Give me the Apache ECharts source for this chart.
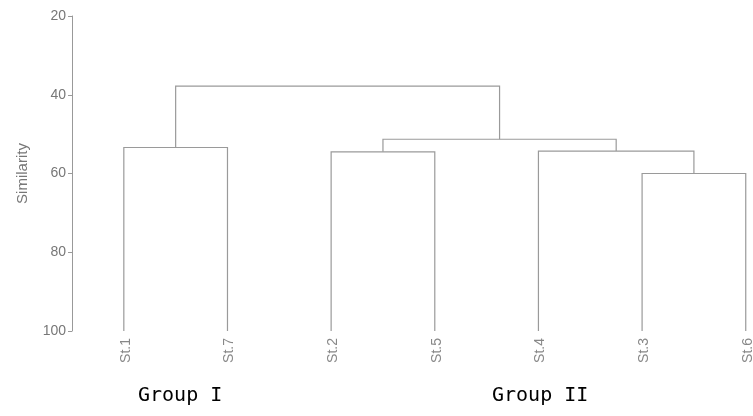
<!DOCTYPE html>
<html>
<head>
<meta charset="utf-8">
<script src="https://cdn.jsdelivr.net/npm/echarts@6/dist/echarts.min.js"></script>
<style>html,body{margin:0;padding:0;background:#fff}#c{width:753px;height:416px}</style>
</head>
<body>
<div id="c"></div>
<script>
// Leaves in dendrogram order
var leaves = ['St.1', 'St.7', 'St.2', 'St.5', 'St.4', 'St.3', 'St.6'];
// Linkage: node ids 0..6 are leaves, 7.. are clusters in order of this list
var mergeA = [0, 2, 5, 4, 8, 7];
var mergeB = [1, 3, 6, 9, 10, 11];
var mergeHeight = [53.4, 54.5, 60.0, 54.3, 51.3, 37.8];
var yTicks = [20, 40, 60, 80, 100];
var groupLabels = ['Group I', 'Group II'];

var nodeX = leaves.map(function (_, i) { return i; });
var nodeY = leaves.map(function () { return 100; });
var links = [];
for (var k = 0; k < mergeA.length; k++) {
  var a = mergeA[k], b = mergeB[k], h = mergeHeight[k];
  links.push([nodeX[a], nodeY[a], nodeX[b], nodeY[b], h]);
  nodeX.push((nodeX[a] + nodeX[b]) / 2);
  nodeY.push(h);
}
var leafData = leaves.map(function (name, i) { return [i, 100, name]; });

var chart = echarts.init(document.getElementById('c'));
chart.setOption({
  animation: false,
  grid: { left: 72, right: 0, top: 16, bottom: 85 },
  xAxis: { type: 'value', min: -0.5, max: 6.07, show: false },
  yAxis: {
    type: 'value', inverse: true, min: yTicks[0], max: yTicks[yTicks.length - 1], interval: 20,
    name: 'Similarity', nameLocation: 'middle', nameGap: 42,
    nameTextStyle: { color: '#777', fontSize: 15, fontFamily: 'Liberation Sans' },
    axisLine: { show: true, onZero: false, lineStyle: { color: '#999' } },
    axisTick: { show: true, length: 4, lineStyle: { color: '#999' } },
    axisLabel: { color: '#777', fontSize: 14, fontFamily: 'Liberation Sans', margin: 6 },
    splitLine: { show: false }
  },
  series: [{
    type: 'custom',
    clip: false,
    data: links,
    encode: { x: [0, 2], y: [1, 3, 4] },
    renderItem: function (params, api) {
      var p1 = api.coord([api.value(0), api.value(1)]);
      var p2 = api.coord([api.value(0), api.value(4)]);
      var p3 = api.coord([api.value(2), api.value(4)]);
      var p4 = api.coord([api.value(2), api.value(3)]);
      return {
        type: 'polyline',
        shape: { points: [p1, p2, p3, p4] },
        style: { stroke: '#9a9a9a', lineWidth: 1.2, fill: null }
      };
    }
  }, {
    type: 'custom',
    clip: false,
    data: leafData,
    encode: { x: 0, y: 1 },
    renderItem: function (params, api) {
      var p = api.coord([api.value(0), api.value(1)]);
      return {
        type: 'text',
        x: p[0] + 2, y: p[1] + 7,
        rotation: Math.PI / 2,
        style: {
          text: leafData[params.dataIndex][2],
          fill: '#888', fontSize: 14, fontFamily: 'Liberation Sans',
          align: 'right', verticalAlign: 'middle'
        }
      };
    }
  }],
  graphic: [
    { type: 'text', left: 138, top: 386, style: { text: groupLabels[0], fill: '#000', fontSize: 20, fontFamily: 'DejaVu Sans Mono' } },
    { type: 'text', left: 492, top: 386, style: { text: groupLabels[1], fill: '#000', fontSize: 20, fontFamily: 'DejaVu Sans Mono' } }
  ]
});
</script>
</body>
</html>
